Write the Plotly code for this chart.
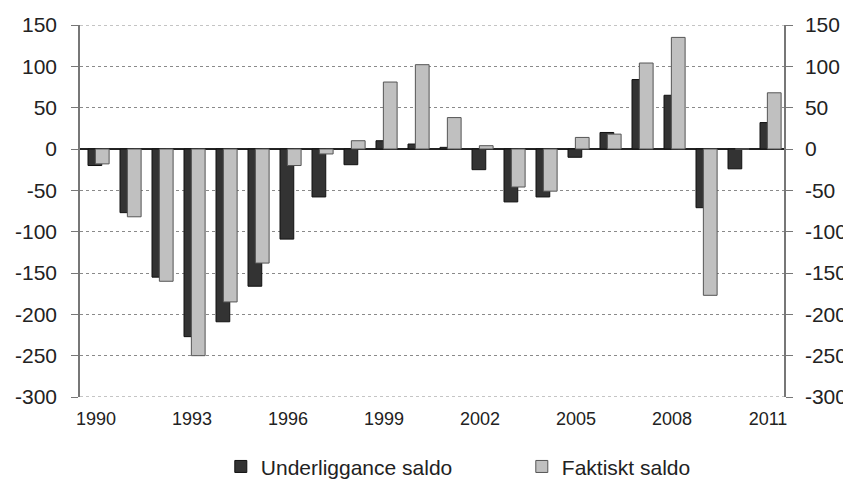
import plotly.graph_objects as go

years = list(range(1990, 2012))
underliggande = [-20, -77, -155, -227, -209, -166, -109, -58, -19, 10, 6, 2, -25, -64, -58, -10, 20, 84, 65, -71, -24, 32]
faktiskt = [-18, -82, -160, -250, -185, -138, -20, -6, 10, 81, 102, 38, 4, -46, -51, 14, 18, 104, 135, -177, 0, 68]
tick_years = [1990, 1993, 1996, 1999, 2002, 2005, 2008, 2011]
y_ticks = list(range(-300, 151, 50))
y_ticktext = [str(v) for v in y_ticks]  # plain hyphen minus, as in the original

FONT = "Arial, Liberation Sans, sans-serif"
TXT = "#222222"
GRID = "#8a8a8a"

fig = go.Figure()
fig.add_trace(go.Bar(
    x=years, y=underliggande, name="Underliggance saldo",
    width=0.43, offset=-0.25,
    marker=dict(color="#333333", line=dict(color="#111111", width=1)),
))
fig.add_trace(go.Bar(
    x=years, y=faktiskt, name="Faktiskt saldo",
    width=0.43, offset=-0.02,
    marker=dict(color="#c0c0c0", line=dict(color="#555555", width=1)),
))
# invisible trace to carry the right-hand axis
fig.add_trace(go.Scatter(
    x=years, y=faktiskt, yaxis="y2", mode="lines",
    line=dict(width=0, color="rgba(0,0,0,0)"), showlegend=False, hoverinfo="skip",
))

axis_common = dict(
    range=[y_ticks[0], y_ticks[-1]], tickmode="array", tickvals=y_ticks, ticktext=y_ticktext,
    ticks="outside", ticklen=7, automargin=False,
    tickcolor="#777777", tickwidth=1.2, showline=True, linecolor="#777777",
    linewidth=1.5, tickfont=dict(family=FONT, size=21, color=TXT),
)

# dotted gridlines at the range ends (bottom/top of the plot area)
for yv in (y_ticks[0], y_ticks[-1]):
    fig.add_shape(type="line", xref="paper", x0=0, x1=1, yref="y", y0=yv, y1=yv,
                  line=dict(color=GRID, width=1, dash="dot"), layer="below")

fig.update_layout(
    width=843, height=473,
    margin=dict(l=72, r=67, t=17, b=84),
    paper_bgcolor="white", plot_bgcolor="white",
    barmode="overlay",
    showlegend=True,
    legend=dict(
        orientation="h", xref="paper", x=0.2, xanchor="left",
        yref="container", y=0.03, yanchor="middle",
        font=dict(family=FONT, size=21, color=TXT), entrywidth=256,
        itemwidth=30,
    ),
    xaxis=dict(
        range=[1989.5, 2011.5], tickvals=tick_years, showgrid=False,
        zeroline=False, showline=False, ticks="", automargin=False,
        tickfont=dict(family=FONT, size=18, color=TXT), ticklabelstandoff=9,
    ),
    yaxis=dict(
        **axis_common, side="left",
        showgrid=True, gridcolor=GRID, griddash="dot", gridwidth=1,
        zeroline=True, zerolinecolor="#222222", zerolinewidth=1.5,
        ticklabelstandoff=10,
    ),
    yaxis2=dict(
        **axis_common, side="right", overlaying="y", anchor="x",
        showgrid=False, zeroline=False, ticklabelstandoff=8,
    ),
)

fig.write_html("out.html")
